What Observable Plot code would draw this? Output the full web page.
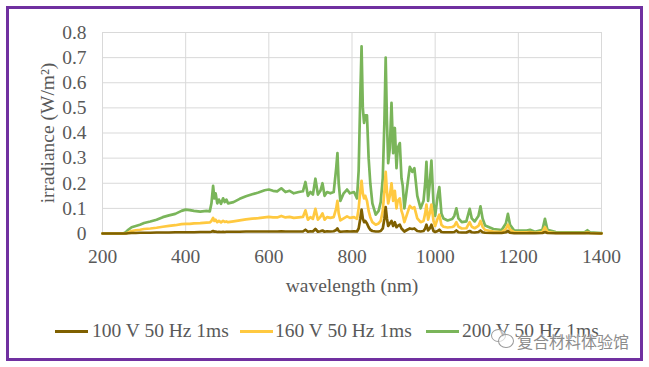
<!DOCTYPE html>
<html>
<head>
<meta charset="utf-8">
<script src="https://cdn.jsdelivr.net/npm/d3@7"></script>
<script src="https://cdn.jsdelivr.net/npm/@observablehq/plot@0.6"></script>
<style>
  html, body { margin: 0; padding: 0; background: #ffffff; }
  #page { position: relative; width: 649px; height: 367px; overflow: hidden; background: #fff; }
  #frame { position: absolute; left: 6px; top: 6px; width: 637px; height: 355px; box-sizing: border-box; border: 3px solid #7030A0; background: #fff; }
  #chart { position: absolute; left: 0; top: 0; }
  .leg { position: absolute; top: 320px; font-family: "Liberation Serif", "Times New Roman", serif; font-size: 19.5px; color: #595959; white-space: nowrap; line-height: 22px; }
  .sw { position: absolute; top: 330px; height: 3px; width: 33px; }
  #wm { position: absolute; left: 517px; top: 329px; font-family: "Noto Sans CJK SC", sans-serif; font-size: 16px; color: #8c8c8c; text-shadow: 0 0 2px #fff, 0 0 2px #fff; white-space: nowrap; }
  .bub { position: absolute; border: 1.5px solid #9a9a9a; border-radius: 50%; background: rgba(255,255,255,0.6); }
</style>
</head>
<body>
<div id="page">
  <div id="frame"></div>
  <div id="chart"></div>
</div>
<script>
// ---- data ----
const wavelength = [200,250,256,262,270,280,290,300,315,330,345,360,375,390,400,410,420,435,450,458,462,466,469,472,476,480,485,490,494,498,502,515,530,545,560,575,590,600,610,620,630,640,650,660,672,682,688,694,700,706,712,718,724,729,734,740,748,756,762,765,768,772,780,788,795,805,812,816,820,823,826,829,832,836,840,844,849,857,864,869,874,878,881,884,887,891,895,899,903,907,910,915,919,922,926,933,939,945,950,957,965,972,976,979,983,987,991,996,1000,1006,1010,1015,1020,1030,1041,1046,1051,1056,1064,1075,1083,1088,1095,1104,1109,1114,1120,1140,1160,1170,1175,1180,1190,1220,1228,1240,1258,1264,1270,1290,1330,1360,1366,1372,1400];

const v200 = [0,0,0.005,0.015,0.025,0.03,0.035,0.042,0.048,0.055,0.065,0.072,0.078,0.09,0.095,0.093,0.09,0.087,0.09,0.088,0.12,0.19,0.14,0.16,0.12,0.135,0.118,0.14,0.125,0.135,0.12,0.125,0.138,0.148,0.156,0.163,0.172,0.175,0.17,0.168,0.18,0.165,0.17,0.16,0.165,0.168,0.205,0.15,0.165,0.155,0.218,0.155,0.17,0.2,0.15,0.165,0.16,0.165,0.26,0.32,0.2,0.13,0.16,0.175,0.16,0.165,0.14,0.25,0.55,0.745,0.5,0.44,0.47,0.47,0.3,0.2,0.12,0.075,0.09,0.125,0.22,0.45,0.7,0.45,0.28,0.34,0.52,0.32,0.42,0.26,0.34,0.36,0.22,0.19,0.1,0.19,0.265,0.245,0.26,0.15,0.1,0.13,0.2,0.285,0.13,0.2,0.29,0.12,0.07,0.15,0.185,0.08,0.06,0.052,0.058,0.07,0.1,0.06,0.045,0.048,0.098,0.06,0.048,0.07,0.108,0.06,0.032,0.018,0.014,0.04,0.078,0.035,0.012,0.012,0.015,0.007,0.015,0.058,0.015,0.006,0.005,0.006,0.013,0.005,0.002];

const v160 = [0,0,0,0.004,0.01,0.013,0.015,0.018,0.02,0.023,0.027,0.03,0.033,0.037,0.038,0.038,0.04,0.041,0.043,0.044,0.05,0.062,0.05,0.055,0.045,0.05,0.044,0.05,0.046,0.048,0.045,0.048,0.052,0.056,0.059,0.061,0.064,0.066,0.064,0.064,0.07,0.064,0.066,0.062,0.064,0.066,0.092,0.055,0.065,0.058,0.098,0.055,0.066,0.08,0.055,0.065,0.062,0.065,0.1,0.13,0.08,0.052,0.06,0.068,0.062,0.065,0.058,0.1,0.17,0.21,0.16,0.14,0.15,0.13,0.09,0.065,0.045,0.035,0.04,0.05,0.09,0.17,0.245,0.17,0.12,0.15,0.2,0.13,0.17,0.1,0.13,0.14,0.09,0.075,0.045,0.08,0.11,0.1,0.105,0.06,0.045,0.05,0.08,0.115,0.055,0.08,0.115,0.05,0.03,0.06,0.075,0.035,0.027,0.024,0.026,0.03,0.045,0.027,0.02,0.021,0.045,0.027,0.021,0.03,0.05,0.027,0.014,0.008,0.006,0.018,0.035,0.015,0.005,0.005,0.006,0.003,0.006,0.025,0.006,0.002,0.002,0.002,0.005,0.002,0];

const v100 = [0,0,0,0.001,0.002,0.002,0.003,0.003,0.003,0.004,0.004,0.004,0.005,0.005,0.005,0.005,0.005,0.006,0.006,0.006,0.007,0.01,0.007,0.008,0.006,0.007,0.006,0.007,0.006,0.007,0.007,0.007,0.007,0.008,0.008,0.008,0.008,0.008,0.008,0.008,0.009,0.008,0.008,0.008,0.008,0.008,0.015,0.007,0.009,0.008,0.018,0.007,0.009,0.012,0.007,0.009,0.008,0.009,0.014,0.02,0.01,0.007,0.008,0.009,0.008,0.009,0.008,0.02,0.06,0.095,0.06,0.045,0.05,0.04,0.025,0.015,0.01,0.008,0.008,0.01,0.02,0.06,0.105,0.06,0.03,0.04,0.05,0.03,0.045,0.025,0.03,0.035,0.02,0.015,0.008,0.015,0.02,0.018,0.02,0.01,0.008,0.01,0.02,0.035,0.012,0.02,0.035,0.01,0.006,0.01,0.015,0.006,0.005,0.005,0.005,0.006,0.012,0.005,0.004,0.004,0.01,0.005,0.004,0.006,0.012,0.005,0.003,0.002,0.002,0.005,0.01,0.003,0.001,0.001,0.002,0.001,0.002,0.006,0.002,0.001,0.001,0.001,0.002,0.001,0];

const seriesNames = ["100 V 50 Hz 1ms", "160 V 50 Hz 1ms", "200 V 50 Hz 1ms"];
const seriesColors = ["#7F6000", "#FFC940", "#7AB55A"];
const xTicks = [200, 400, 600, 800, 1000, 1200, 1400];
const yTicks = [0, 0.1, 0.2, 0.3, 0.4, 0.5, 0.6, 0.7, 0.8];

// draw order: green first, then yellow, then brown on top
const seriesValues = [v100, v160, v200];
const drawOrder = [2, 1, 0];
const data = [];
for (const s of drawOrder) {
  wavelength.forEach((w, i) => data.push({series: seriesNames[s], wavelength: w, irradiance: seriesValues[s][i]}));
}

const font = "'Liberation Serif', 'Times New Roman', serif";
const chart = Plot.plot({
  width: 649,
  height: 300,
  marginLeft: 102,
  marginRight: 48,
  marginTop: 32,
  marginBottom: 67,
  style: {fontFamily: font, fontSize: "19.5px", color: "#595959", background: "transparent"},
  x: {domain: [200, 1400]},
  y: {domain: [0, 0.8]},
  color: {domain: seriesNames, range: seriesColors},
  marks: [
    Plot.gridX(xTicks, {stroke: "#d9d9d9", strokeOpacity: 1, strokeWidth: 1}),
    Plot.gridY(yTicks, {stroke: "#d9d9d9", strokeOpacity: 1, strokeWidth: 1}),
    Plot.axisX(xTicks, {tickSize: 0, tickPadding: 16, fontSize: 19.5, fill: "#595959",
      tickFormat: d => String(d),
      label: "wavelength (nm)", labelAnchor: "center", labelOffset: 58, labelArrow: "none"}),
    Plot.axisY(yTicks, {tickSize: 0, tickPadding: 16, fontSize: 19.5, fill: "#595959",
      tickFormat: d => d === 0 ? "0" : d.toFixed(1),
      label: "irradiance (W/m²)", labelAnchor: "center", labelOffset: 62, labelArrow: "none"}),
    Plot.line(data, {x: "wavelength", y: "irradiance", z: "series", stroke: "series", strokeWidth: 2.7, strokeLinejoin: "round"})
  ]
});
document.getElementById("chart").appendChild(chart);

// legend
const page = document.getElementById("page");
const legPos = [[55, 92], [240, 275], [426, 462]];
seriesNames.forEach((name, i) => {
  const sw = document.createElement("div");
  sw.className = "sw";
  sw.style.left = legPos[i][0] + "px";
  sw.style.background = seriesColors[i];
  page.appendChild(sw);
  const t = document.createElement("div");
  t.className = "leg";
  t.style.left = legPos[i][1] + "px";
  t.textContent = name;
  page.appendChild(t);
});

// watermark
const b1 = document.createElement("div"); b1.className = "bub";
Object.assign(b1.style, {left: "491px", top: "329px", width: "13px", height: "11px"});
const b2 = document.createElement("div"); b2.className = "bub";
Object.assign(b2.style, {left: "498px", top: "334px", width: "14px", height: "12px"});
page.appendChild(b1); page.appendChild(b2);
const wm = document.createElement("div");
wm.id = "wm";
wm.textContent = "复合材料体验馆";
page.appendChild(wm);
</script>
</body>
</html>
